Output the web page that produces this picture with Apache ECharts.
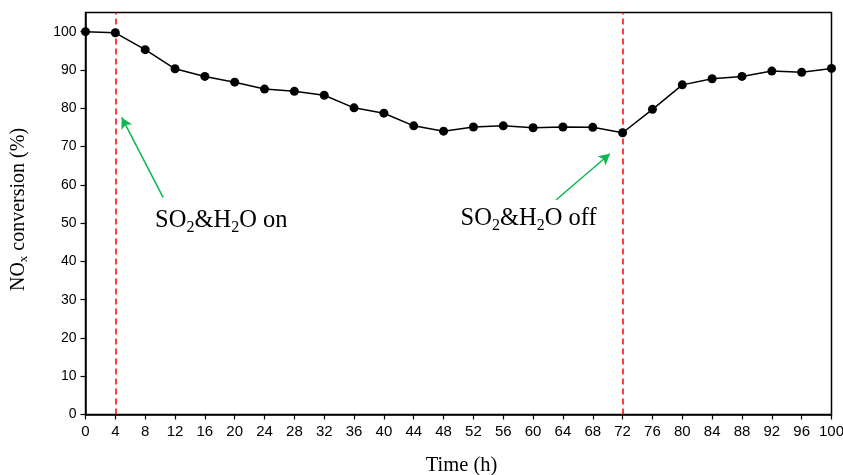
<!DOCTYPE html>
<html>
<head>
<meta charset="utf-8">
<script src="https://cdn.jsdelivr.net/npm/echarts@6/dist/echarts.min.js"></script>
<style>html,body{margin:0;padding:0;background:#fff;}#chart{width:843px;height:475px;}</style>
</head>
<body>
<div id="chart"></div>
<script>
var times = [0,4,8,12,16,20,24,28,32,36,40,44,48,52,56,60,64,68,72,76,80,84,88,92,96,100];
var conversion = [100,99.7,95.3,90.3,88.3,86.8,85.0,84.4,83.4,80.1,78.7,75.4,74.0,75.1,75.4,74.9,75.1,75.0,73.6,79.7,86.1,87.7,88.3,89.7,89.4,90.4];
var yTicks = [0,10,20,30,40,50,60,70,80,90,100];
var eventTimes = [4, 72];
var eventLabels = ['on', 'off'];
var labelPos = [[18.2, 50.3], [59.4, 50.9]];
var arrows = [[[10.4, 56.7], [4.85, 77.6]], [[63.1, 56.1], [70.3, 68.1]]];

var chart = echarts.init(document.getElementById('chart'));
var serif = '"Liberation Serif","Times New Roman",serif';
var sans = '"Liberation Sans",Arial,sans-serif';

var richLbl = {
  n: {fontFamily: serif, fontSize: 24.5, color: '#000', verticalAlign: 'bottom', padding: [0,0,3,0]},
  s: {fontFamily: serif, fontSize: 16, color: '#000', verticalAlign: 'bottom'}
};

chart.setOption({
  animation: false,
  backgroundColor: '#fff',
  grid: {left: 85.5, right: 11.5, top: 12.5, bottom: 60.5, show: true, borderColor: '#000', borderWidth: 1.5, backgroundColor: 'transparent', containLabel: false, outerBoundsMode: 'none'},
  xAxis: {
    type: 'value', min: 0, max: 100, interval: 4,
    name: 'Time (h)', nameLocation: 'middle', nameGap: 41,
    nameTextStyle: {fontFamily: serif, fontSize: 20.5, color: '#000', padding: [0,0,0,6]},
    axisLine: {lineStyle: {color: '#000', width: 1.5}},
    axisTick: {show: true, length: 5, lineStyle: {color: '#000', width: 1.2}},
    axisLabel: {fontFamily: sans, fontSize: 15, color: '#000', margin: 10},
    splitLine: {show: false}
  },
  yAxis: {
    type: 'value', min: 0, max: 105, interval: 10,
    name: '{a|NO}{b|x}{a| conversion (%)}', nameLocation: 'middle', nameGap: 55,
    nameTextStyle: {padding: [0,0,0,8], rich: {
      a: {fontFamily: serif, fontSize: 20, color: '#000', verticalAlign: 'bottom', padding: [0,0,2,0]},
      b: {fontFamily: serif, fontSize: 13, color: '#000', verticalAlign: 'bottom'}
    }},
    axisLine: {lineStyle: {color: '#000', width: 1.5}},
    axisTick: {show: true, length: 5, customValues: yTicks, lineStyle: {color: '#000', width: 1.2}},
    axisLabel: {fontFamily: sans, fontSize: 14, color: '#000', margin: 9, customValues: yTicks},
    splitLine: {show: false}
  },
  series: [{
    type: 'line',
    data: times.map(function (t, i) { return [t, conversion[i]]; }),
    symbol: 'circle', symbolSize: 9,
    itemStyle: {color: '#000'},
    lineStyle: {color: '#000', width: 1.5},
    z: 5,
    markLine: {
      silent: true, symbol: ['none', 'none'], label: {show: false},
      lineStyle: {color: '#ff0000', type: [6, 4], width: 1.5},
      data: eventTimes.map(function (t) { return {xAxis: t}; })
    },
    markPoint: {
      silent: true, symbol: 'circle', symbolSize: 1,
      itemStyle: {color: 'rgba(0,0,0,0)'},
      label: {show: true, position: 'inside', rich: richLbl,
        formatter: function (p) { return '{n|SO}{s|2}{n|&H}{s|2}{n|O ' + p.name + '}'; }},
      data: labelPos.map(function (c, i) { return {name: eventLabels[i], coord: c}; })
    }
  }, {
    type: 'line', data: [], silent: true,
    markLine: {
      silent: true, symbol: ['none', 'arrow'], symbolSize: [9, 11], label: {show: false},
      lineStyle: {color: '#10b450', type: 'solid', width: 1.5},
      data: arrows.map(function (a) { return [{coord: a[0]}, {coord: a[1]}]; })
    }
  }]
});
</script>
</body>
</html>
